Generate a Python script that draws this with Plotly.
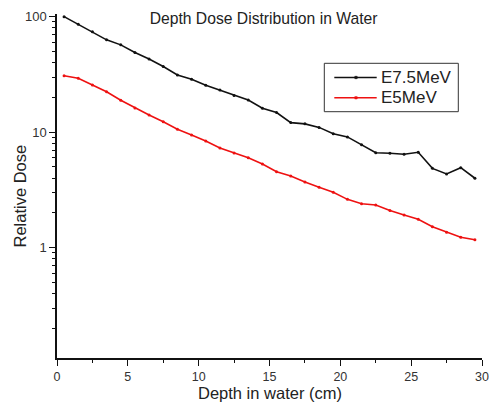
import plotly.graph_objects as go

depth = [0.5, 1.5, 2.5, 3.5, 4.5, 5.5, 6.5, 7.5, 8.5, 9.5,
         10.5, 11.5, 12.5, 13.5, 14.5, 15.5, 16.5, 17.5, 18.5, 19.5,
         20.5, 21.5, 22.5, 23.5, 24.5, 25.5, 26.5, 27.5, 28.5, 29.5]

dose_e75 = [100, 86, 74, 63, 57, 49, 43, 37, 31.3, 28.7,
            25.5, 23.2, 20.8, 19.0, 16.1, 14.8, 12.1, 11.8, 11.0, 9.7,
            9.1, 7.8, 6.64, 6.56, 6.44, 6.7, 4.86, 4.35, 4.93, 3.99]

dose_e5 = [30.8, 29.3, 25.6, 22.4, 18.9, 16.2, 14.1, 12.3, 10.6, 9.46,
           8.4, 7.3, 6.6, 6.0, 5.3, 4.55, 4.18, 3.7, 3.34, 3.02,
           2.62, 2.4, 2.34, 2.1, 1.92, 1.76, 1.52, 1.36, 1.23, 1.17]

series_names = ["E7.5MeV", "E5MeV"]
series_colors = ["#111111", "#ee1111"]
x_ticks = [0, 5, 10, 15, 20, 25, 30]
x_minor = [2.5, 7.5, 12.5, 17.5, 22.5, 27.5]
y_ticks = [1, 10, 100]
y_tick_text = ["1", "10", "100"]
y_minor = [0.2, 0.3, 0.4, 0.5, 0.6, 0.7, 0.8, 0.9,
           2, 3, 4, 5, 6, 7, 8, 9,
           20, 30, 40, 50, 60, 70, 80, 90]

FONT = "Liberation Sans, Arial, sans-serif"
W, H = 489, 403
ML, MR, MT, MB = 57, 7, 14, 45
PW, PH = W - ML - MR, H - MT - MB


def px(xp):
    return (xp - ML) / PW


def py(yp):
    return (H - MB - yp) / PH


fig = go.Figure()
for name, ys, col in zip(series_names, [dose_e75, dose_e5], series_colors):
    fig.add_trace(go.Scatter(x=depth, y=ys, name=name, mode="lines+markers",
                             line=dict(color=col, width=1.6),
                             marker=dict(size=3, color=col),
                             showlegend=False))

axis_common = dict(showgrid=False, zeroline=False, showline=True, linecolor="#111111",
                   linewidth=1.5, ticks="outside", tickcolor="#111111", tickwidth=1,
                   mirror=False, automargin=False, ticklabeloverflow="allow")

shapes = []
annotations = []
# legend box
shapes.append(dict(type="rect", xref="paper", yref="paper",
                   x0=px(324.3), x1=px(458.3), y0=py(111.7), y1=py(63.3),
                   line=dict(color="#333333", width=1), fillcolor="white", layer="above"))
for i, (name, col) in enumerate(zip(series_names, series_colors)):
    yrow = 77.5 + i * 20.3
    shapes.append(dict(type="line", xref="paper", yref="paper",
                       x0=px(334.3), x1=px(376.7), y0=py(yrow), y1=py(yrow),
                       line=dict(color=col, width=1.6), layer="above"))
    shapes.append(dict(type="rect", xref="paper", yref="paper",
                       x0=px(354.8), x1=px(357.2), y0=py(yrow + 1.2), y1=py(yrow - 1.2),
                       line=dict(color=col, width=0.5), fillcolor=col, layer="above"))
    annotations.append(dict(text=name, xref="paper", yref="paper", x=px(378.5), y=py(yrow),
                            xanchor="left", yanchor="middle", showarrow=False,
                            font=dict(family=FONT, size=17, color="#222222")))

# axis titles
annotations.append(dict(text="Depth in water (cm)", xref="paper", yref="paper",
                        x=px(269.5), y=py(393), xanchor="center", yanchor="middle",
                        showarrow=False, borderpad=0,
                        font=dict(family=FONT, size=16.5, color="#222222")))
annotations.append(dict(text="Relative Dose", xref="paper", yref="paper",
                        x=px(19.5), y=py(196), xanchor="center", yanchor="middle",
                        textangle=-90, showarrow=False,
                        font=dict(family=FONT, size=16.5, color="#222222")))

fig.update_layout(
    width=W, height=H,
    margin=dict(l=ML, r=MR, t=MT, b=MB, autoexpand=False),
    paper_bgcolor="white", plot_bgcolor="white",
    font=dict(family=FONT, color="#222222"),
    title=dict(text="Depth Dose Distribution in Water", x=0.539, xanchor="center",
               y=(H - 18.5) / H, yanchor="middle",
               font=dict(family=FONT, size=15.7, color="#222222")),
    showlegend=False,
    shapes=shapes,
    annotations=annotations,
    xaxis=dict(range=[0, 30], tickvals=x_ticks, ticklen=6, ticklabelstandoff=0,
               tickfont=dict(family=FONT, size=12.5, color="#333333"),
               minor=dict(tickvals=x_minor, ticklen=3, ticks="outside", tickcolor="#111111"),
               **axis_common),
    yaxis=dict(type="log", range=[-0.955, 2.023], tickvals=y_ticks, ticktext=y_tick_text,
               ticklen=6, tickfont=dict(family=FONT, size=13, color="#333333"),
               minor=dict(tickvals=y_minor, ticklen=3, ticks="outside", tickcolor="#111111"),
               **axis_common),
)

fig.write_html("out.html")
